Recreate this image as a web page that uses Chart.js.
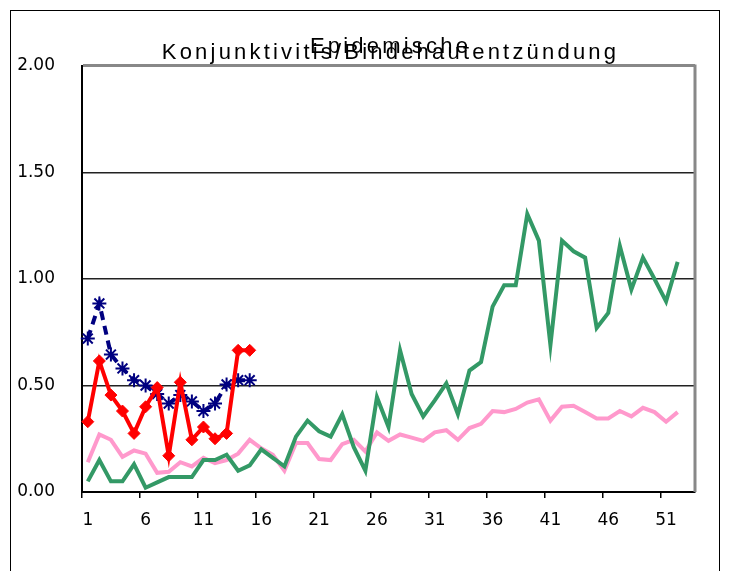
<!DOCTYPE html>
<html>
<head>
<meta charset="utf-8">
<script src="https://cdn.jsdelivr.net/npm/chart.js@4/dist/chart.umd.min.js"></script>
<style>
  body { margin: 0; background: #fff; }
  canvas { display: block; }
</style>
</head>
<body>
<canvas id="chart" width="729" height="571"></canvas>
<script>
const weeks = ['1','2','3','4','5','6','7','8','9','10','11','12','13','14','15','16','17','18','19','20',
  '21','22','23','24','25','26','27','28','29','30','31','32','33','34','35','36','37','38','39','40',
  '41','42','43','44','45','46','47','48','49','50','51','52','53'];

const greenValues = [0.05, 0.15, 0.05, 0.05, 0.13, 0.02, 0.045, 0.07, 0.07, 0.07,
  0.15, 0.15, 0.175, 0.10, 0.125, 0.20, 0.16, 0.12, 0.26, 0.335,
  0.285, 0.26, 0.365, 0.21, 0.10, 0.445, 0.305, 0.665, 0.46, 0.355,
  0.43, 0.51, 0.365, 0.57, 0.61, 0.87, 0.97, 0.97, 1.305, 1.18,
  0.69, 1.18, 1.13, 1.10, 0.77, 0.84, 1.155, 0.95, 1.10, 1.0,
  0.895, 1.08];

const pinkValues = [0.14, 0.27, 0.245, 0.165, 0.195, 0.18, 0.09, 0.095, 0.14, 0.12,
  0.16, 0.135, 0.15, 0.18, 0.245, 0.205, 0.175, 0.10, 0.23, 0.23,
  0.155, 0.15, 0.225, 0.245, 0.19, 0.28, 0.24, 0.27, 0.255, 0.24,
  0.28, 0.29, 0.245, 0.30, 0.32, 0.38, 0.375, 0.39, 0.42, 0.435,
  0.335, 0.40, 0.405, 0.375, 0.345, 0.345, 0.38, 0.355, 0.395, 0.375,
  0.33, 0.375];

const redValues = [0.33, 0.615, 0.455, 0.38, 0.275, 0.40, 0.49, 0.17, 0.515, 0.245,
  0.305, 0.25, 0.275, 0.665, 0.665];

const navyValues = [0.72, 0.885, 0.645, 0.58, 0.525, 0.50, 0.46, 0.415, 0.455, 0.425,
  0.38, 0.415, 0.505, 0.525, 0.525];

const titleLines = ['Epidemische', 'Konjunktivitis/Bindehautentzündung'];

// outer frame + grey right edge of the plot area, and wide-spaced title centred over the plot
const framePlugin = {
  id: 'frame',
  beforeDraw(chart) {
    const tb = chart.titleBlock;
    if (tb && !tb._spaced) {
      const orig = tb.draw.bind(tb);
      tb.draw = function (area) {
        const c = this.ctx;
        const a = chart.chartArea;
        c.save();
        c.letterSpacing = '3.2px';
        c.translate((a.left + a.right) / 2 - (this.left + this.right) / 2 + 2, 0);
        orig(area);
        c.restore();
      };
      tb._spaced = true;
    }
    const c = chart.ctx;
    c.save();
    c.strokeStyle = '#000';
    c.lineWidth = 1;
    c.strokeRect(10.5, 10.5, 709, 700);
    c.restore();
  },
  beforeDatasetsDraw(chart) {
    const a = chart.chartArea;
    const c = chart.ctx;
    c.save();
    c.strokeStyle = '#888';
    c.lineWidth = 3;
    c.beginPath();
    c.moveTo(a.right, a.top - 1.5);
    c.lineTo(a.right, a.bottom);
    c.stroke();
    c.restore();
  }
};

const tickFont = { family: 'DejaVu Sans', size: 17 };

new Chart(document.getElementById('chart').getContext('2d'), {
  type: 'line',
  data: {
    labels: weeks,
    datasets: [
      {
        label: 'Reihe 1',
        data: redValues,
        borderColor: '#ff0000',
        backgroundColor: '#ff0000',
        borderWidth: 4,
        pointStyle: 'rectRot',
        pointRadius: 6,
        pointBorderWidth: 1,
        order: 1
      },
      {
        label: 'Reihe 2',
        data: navyValues,
        borderColor: '#000080',
        backgroundColor: '#000080',
        borderWidth: 4,
        borderDash: [9, 6],
        pointStyle: 'star',
        pointRadius: 7,
        pointBorderWidth: 2,
        order: 2
      },
      {
        label: 'Reihe 3',
        data: greenValues,
        borderColor: '#339966',
        borderWidth: 4,
        pointRadius: 0,
        order: 3
      },
      {
        label: 'Reihe 4',
        data: pinkValues,
        borderColor: '#ff99cc',
        borderWidth: 4,
        pointRadius: 0,
        order: 4
      }
    ]
  },
  options: {
    responsive: false,
    animation: false,
    layout: { padding: { left: 0, right: 34, top: 0, bottom: 0 } },
    plugins: {
      legend: { display: false },
      tooltip: { enabled: false },
      title: {
        display: true,
        text: titleLines,
        color: '#000',
        font: { family: 'Liberation Sans', size: 22, weight: 'normal', lineHeight: 0.27 },
        padding: { top: 44, bottom: 10 }
      }
    },
    scales: {
      x: {
        offset: true,
        border: { color: '#000', width: 2 },
        grid: {
          offset: true,
          drawOnChartArea: false,
          tickLength: 6,
          lineWidth: 1.5,
          color: (ctx) => (ctx.index % 5 === 0 ? '#000' : 'rgba(0,0,0,0)')
        },
        ticks: {
          autoSkip: false,
          maxRotation: 0,
          padding: 12,
          color: '#000',
          font: tickFont,
          callback: function (value, index) {
            return index % 5 === 0 ? this.getLabelForValue(value) : '';
          }
        },
        afterFit: (scale) => { scale.height = 79; }
      },
      y: {
        min: 0,
        max: 2,
        border: { color: '#000', width: 2 },
        grid: {
          drawTicks: false,
          color: (ctx) => (ctx.tick && ctx.tick.value === 2 ? '#888' : '#222'),
          lineWidth: (ctx) => (ctx.tick && ctx.tick.value === 2 ? 3 : 1.5)
        },
        ticks: {
          stepSize: 0.5,
          padding: 27,
          color: '#000',
          font: tickFont,
          callback: (v) => v.toFixed(2)
        },
        afterFit: (scale) => { scale.width = 82; }
      }
    }
  },
  plugins: [framePlugin]
});
</script>
</body>
</html>
